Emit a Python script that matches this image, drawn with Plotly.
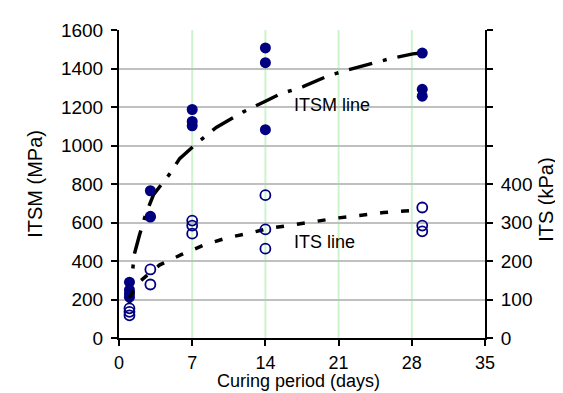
import plotly.graph_objects as go

# ITSM measured values (MPa)
itsm_days = [1, 1, 1, 1, 3, 3, 3, 7, 7, 7, 14, 14, 14, 29, 29, 29]
itsm_vals = [290, 250, 230, 212, 765, 632, 628, 1187, 1125, 1102, 1507, 1430, 1082, 1480, 1292, 1256]

# ITS measured values (kPa)
its_days = [1, 1, 1, 3, 3, 7, 7, 7, 14, 14, 14, 29, 29, 29]
its_vals = [77, 68, 59, 178, 139, 305, 292, 271, 371, 282, 232, 339, 292, 277]

# ITSM trend line (traced)
itsm_line_x = [1.0, 1.45, 1.96, 2.55, 3.3, 4.9, 5.8, 7.75, 9.3, 11.9, 14.0, 15.4, 17.6, 20.0, 21.8, 23.8, 25.9, 28.1, 28.9]
itsm_line_y = [180, 432, 535, 642, 745, 856, 932, 1026, 1094, 1175, 1230, 1267, 1306, 1362, 1391, 1422, 1451, 1476, 1480]

# ITS trend line (traced, kPa)
its_line_x = [1.0, 1.9, 3.9, 6.0, 8.1, 10.3, 12.4, 14.4, 16.7, 18.7, 21.0, 23.0, 25.3, 27.3, 28.9]
its_line_y = [105, 145, 190, 217, 241, 260, 272, 285, 294, 303, 312, 318, 326, 330, 333]

x_ticks = [0, 7, 14, 21, 28, 35]
left_ticks = [0, 200, 400, 600, 800, 1000, 1200, 1400, 1600]
right_ticks = [0, 100, 200, 300, 400, 500, 600, 700, 800]
right_labels = ["0", "100", "200", "300", "400", "", "", "", ""]

FONT = "Liberation Sans, Arial, sans-serif"
NAVY = "#000080"

fig = go.Figure()

# vertical green gridlines
for xv in [7, 14, 21, 28]:
    fig.add_shape(type="line", xref="x", yref="paper", x0=xv, x1=xv, y0=0, y1=1,
                  line=dict(color="#ccf5cc", width=2), layer="below")

fig.add_trace(go.Scatter(x=itsm_line_x, y=itsm_line_y, mode="lines",
                         line=dict(color="black", width=3.5, dash="24px,11px,4px,11px"),
                         showlegend=False, hoverinfo="skip"))
fig.add_trace(go.Scatter(x=its_line_x, y=its_line_y, mode="lines", yaxis="y2",
                         line=dict(color="black", width=3.5, dash="8px,13px"),
                         showlegend=False, hoverinfo="skip"))
fig.add_trace(go.Scatter(x=itsm_days, y=itsm_vals, mode="markers",
                         marker=dict(symbol="circle", size=11, color=NAVY),
                         showlegend=False))
fig.add_trace(go.Scatter(x=its_days, y=its_vals, mode="markers", yaxis="y2",
                         marker=dict(symbol="circle-open", size=10, color=NAVY,
                                     line=dict(width=1.8, color=NAVY)),
                         showlegend=False))

# page body has an 8px margin, so the figure is laid out 8px smaller
fig.update_layout(
    width=555, height=385,
    margin=dict(l=111, r=78, t=16, b=55),
    paper_bgcolor="white", plot_bgcolor="white",
    font=dict(family=FONT, size=19, color="black"),
    xaxis=dict(range=[0, 35], tickvals=x_ticks, showgrid=False, zeroline=False,
               showline=True, linecolor="black", linewidth=2,
               ticks="outside", ticklen=6, tickwidth=2, tickcolor="black",
               ticklabelstandoff=1, tickfont=dict(size=18)),
    yaxis=dict(range=[0, 1600], tickvals=left_ticks, showgrid=True,
               gridcolor="#c0c0c0", gridwidth=2, zeroline=False,
               showline=True, linecolor="black", linewidth=2,
               ticks="outside", ticklen=6, tickwidth=2, tickcolor="black",
               ticklabelstandoff=4, tickfont=dict(size=19)),
    yaxis2=dict(range=[0, 800], tickvals=right_ticks, ticktext=right_labels,
                overlaying="y", side="right", showgrid=False, zeroline=False,
                showline=True, linecolor="black", linewidth=2,
                ticks="outside", ticklen=6, tickwidth=2, tickcolor="black",
                ticklabelstandoff=4, tickfont=dict(size=19)),
    annotations=[
        dict(text="ITSM line", x=16.5, y=1213, xref="x", yref="y", xanchor="left",
             yanchor="middle", showarrow=False, font=dict(size=18)),
        dict(text="ITS line", x=16.5, y=499, xref="x", yref="y", xanchor="left",
             yanchor="middle", showarrow=False, font=dict(size=18)),
        dict(text="Curing period (days)", x=0.49, y=-0.141, xref="paper", yref="paper",
             xanchor="center", yanchor="middle", showarrow=False, font=dict(size=18)),
        dict(text="ITSM (MPa)", x=-0.23, y=0.5, xref="paper", yref="paper",
             xanchor="center", yanchor="middle", textangle=-90, showarrow=False,
             font=dict(size=20)),
        dict(text="ITS (kPa)", x=1.167, y=0.449, xref="paper", yref="paper",
             xanchor="center", yanchor="middle", textangle=-90, showarrow=False,
             font=dict(size=20)),
    ],
)

fig.write_html("out.html")
